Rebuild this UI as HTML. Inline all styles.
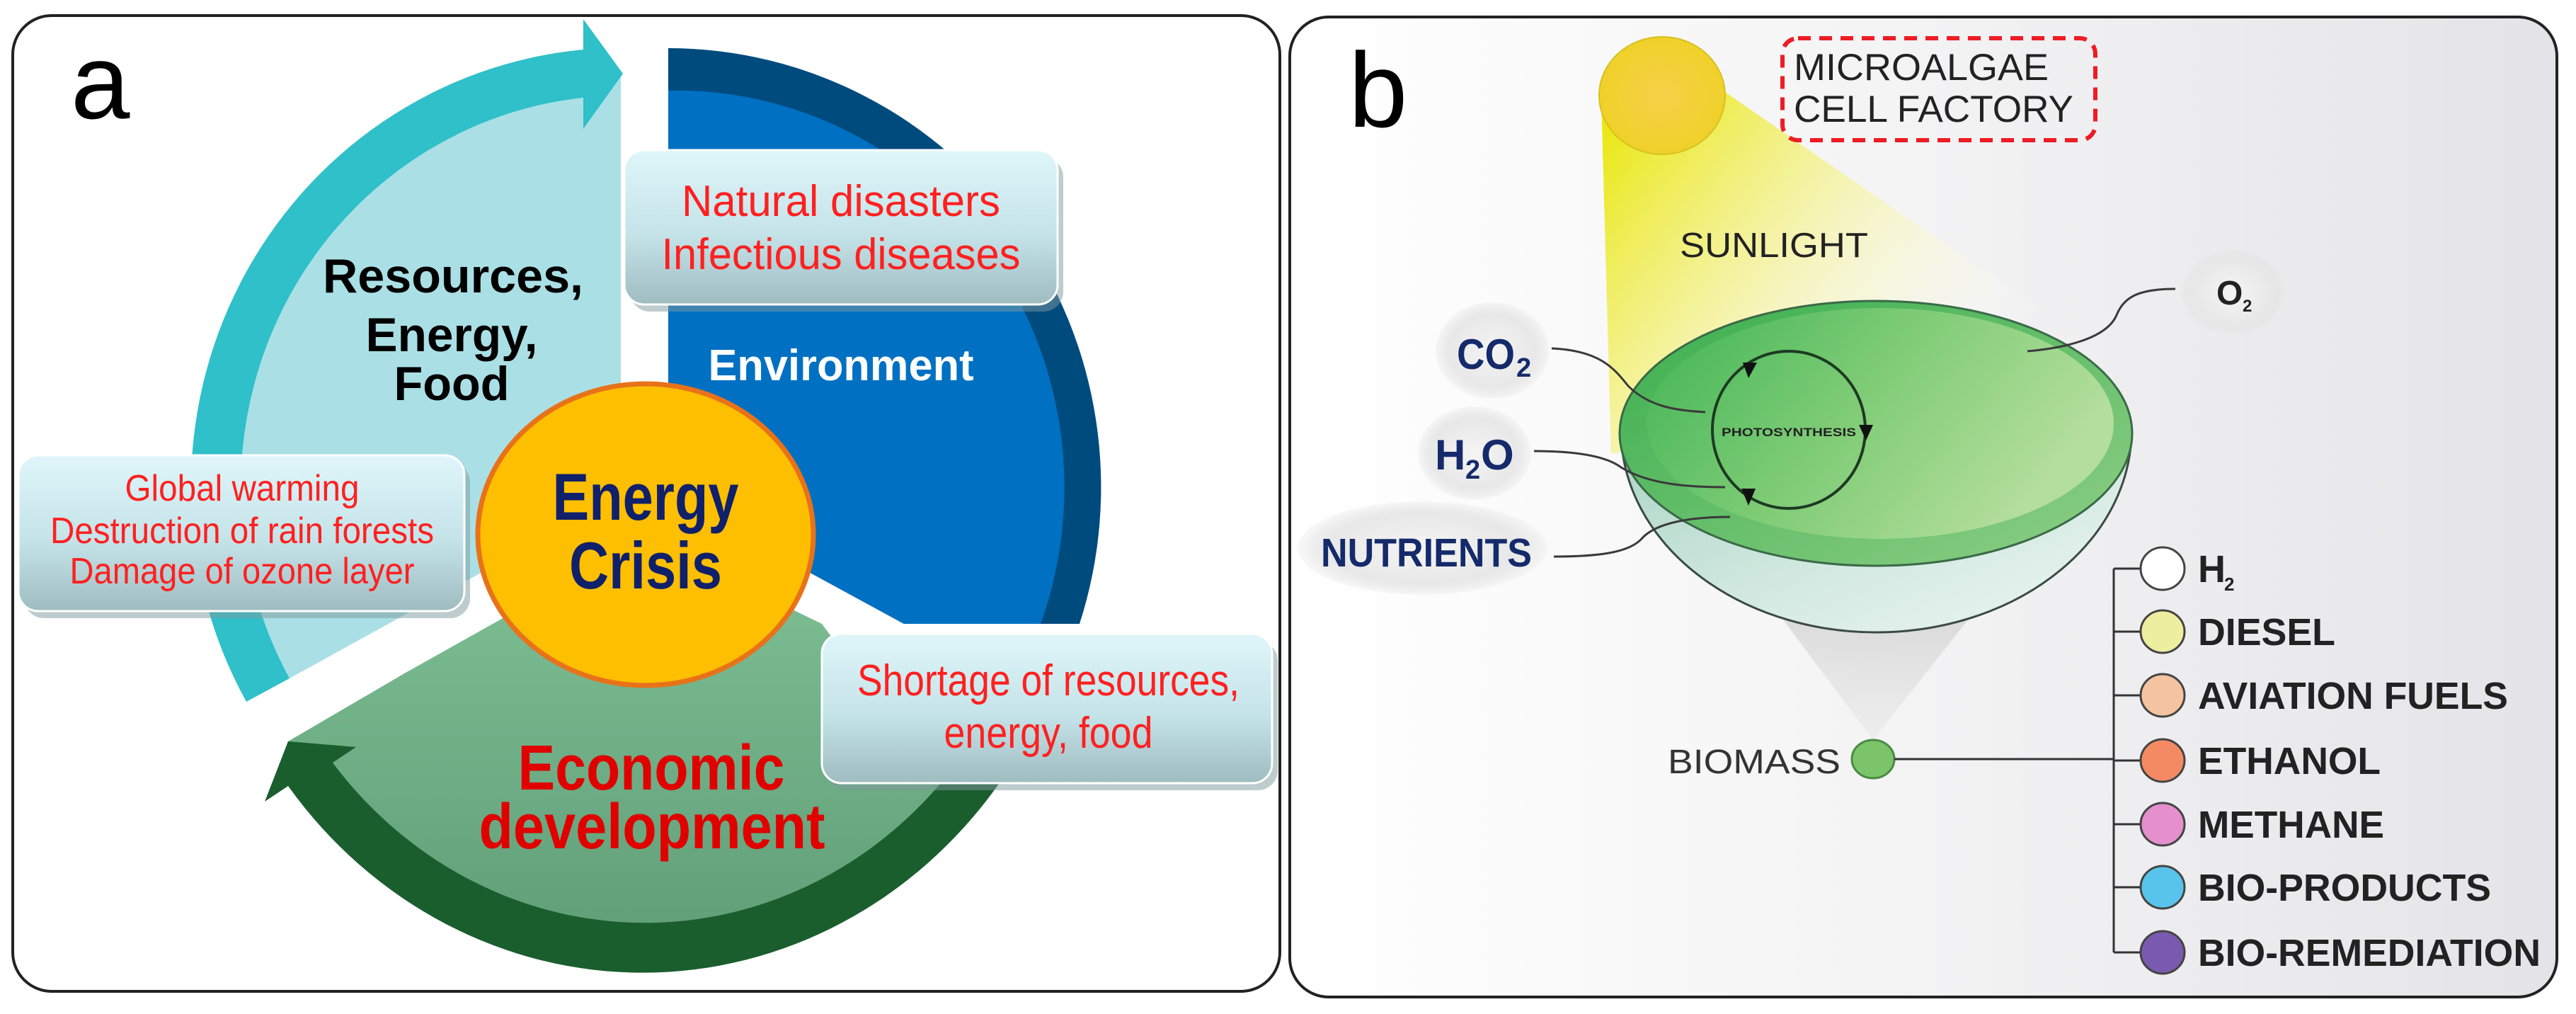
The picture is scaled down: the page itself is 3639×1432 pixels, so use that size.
<!DOCTYPE html>
<html><head><meta charset="utf-8"><style>
html,body{margin:0;padding:0;background:#fff;}
svg{display:block;}
text{font-family:"Liberation Sans",Arial,sans-serif;}
</style></head><body>
<svg width="3639" height="1432" viewBox="0 0 3639 1432" xmlns="http://www.w3.org/2000/svg">
<defs>
<linearGradient id="box" x1="0" y1="0" x2="0" y2="1">
<stop offset="0" stop-color="#dff6fa"/><stop offset="0.55" stop-color="#c4e3e8"/><stop offset="1" stop-color="#9fbcc0"/>
</linearGradient>
<linearGradient id="lg" x1="0" y1="0" x2="0" y2="1">
<stop offset="0" stop-color="#80c195"/><stop offset="1" stop-color="#62a07a"/>
</linearGradient>
<linearGradient id="bbg" x1="0" y1="0" x2="1" y2="0">
<stop offset="0" stop-color="#ffffff"/><stop offset="0.5" stop-color="#f3f3f4"/><stop offset="1" stop-color="#e4e4e8"/>
</linearGradient>
<linearGradient id="beam" x1="0" y1="0" x2="1" y2="0.6">
<stop offset="0" stop-color="#e8e600"/><stop offset="0.45" stop-color="#f4f290" stop-opacity="0.8"/><stop offset="1" stop-color="#ffffff" stop-opacity="0"/>
</linearGradient>
<linearGradient id="bowl" x1="0" y1="0" x2="1" y2="1">
<stop offset="0" stop-color="#a9d3c3"/><stop offset="0.6" stop-color="#d6ebe4"/><stop offset="1" stop-color="#eef5f2"/>
</linearGradient>
<linearGradient id="rim" x1="0" y1="0" x2="1" y2="1">
<stop offset="0" stop-color="#3aae4e"/><stop offset="1" stop-color="#8fcf86"/>
</linearGradient>
<linearGradient id="pool" x1="0" y1="0" x2="1" y2="0.4">
<stop offset="0" stop-color="#40b455"/><stop offset="0.5" stop-color="#7ccb74"/><stop offset="1" stop-color="#b4de9c"/>
</linearGradient>
<radialGradient id="bub" cx="0.5" cy="0.5" r="0.5">
<stop offset="0" stop-color="#f4f4f4"/><stop offset="0.75" stop-color="#e8e8e8"/><stop offset="1" stop-color="#e0e0e0" stop-opacity="0.2"/>
</radialGradient>
<linearGradient id="cone" x1="0" y1="0" x2="0" y2="1">
<stop offset="0" stop-color="#d0d0d0"/><stop offset="1" stop-color="#e6e6e6" stop-opacity="0.6"/>
</linearGradient>
<radialGradient id="sun" cx="0.5" cy="0.5" r="0.5">
<stop offset="0" stop-color="#f7d048"/><stop offset="1" stop-color="#efd12a"/>
</radialGradient>
</defs>

<!-- Panel a -->
<rect x="18" y="22" width="1790" height="1378" rx="55" fill="#fff" stroke="#222" stroke-width="4"/>
<text x="100" y="167" font-size="150">a</text>

<!-- cyan -->
<path d="M877,100 L877,700 L409,958 A540,553 0 0 1 824,138 Z" fill="#aae0e5"/>
<path d="M348,991 A610,620 0 0 1 824,70 L824,27 L880,104 L824,182 L824,138 A540,553 0 0 0 409,958 Z" fill="#2fc0c9"/>
<!-- blue -->
<path d="M944,68 A612,620 0 0 1 1525,881 L1277,881 L944,700 Z" fill="#004b7e"/>
<path d="M944,128 A548,560 0 0 1 1470,881 L1277,881 L944,700 Z" fill="#0070c2"/>
<!-- green -->
<path d="M1328,1107 A565,603 0 0 1 470,1077 L407,1047 L573,950 L912,760 L1161,881 Z" fill="url(#lg)"/>
<path d="M1411,1107 A630,670 0 0 1 407,1110 L374,1132 L407,1047 L503,1055 L470,1077 A565,603 0 0 0 1328,1107 Z" fill="#1a5e2e"/>

<text x="640" y="413" font-size="68" font-weight="bold" text-anchor="middle" textLength="368" lengthAdjust="spacingAndGlyphs">Resources,</text>
<text x="638" y="496" font-size="68" font-weight="bold" text-anchor="middle" textLength="243" lengthAdjust="spacingAndGlyphs">Energy,</text>
<text x="638" y="565" font-size="68" font-weight="bold" text-anchor="middle" textLength="163" lengthAdjust="spacingAndGlyphs">Food</text>
<text x="1188" y="537" font-size="62" font-weight="bold" fill="#fff" text-anchor="middle" textLength="375" lengthAdjust="spacingAndGlyphs">Environment</text>

<!-- boxes -->
<rect x="890" y="222" width="612" height="218" rx="28" fill="#7e9a9e" opacity="0.5"/>
<rect x="882" y="212" width="612" height="218" rx="28" fill="url(#box)" stroke="#fff" stroke-width="3"/>
<text x="1188" y="305" font-size="62" fill="#ff2020" text-anchor="middle" textLength="450" lengthAdjust="spacingAndGlyphs">Natural disasters</text>
<text x="1188" y="380" font-size="62" fill="#ff2020" text-anchor="middle" textLength="507" lengthAdjust="spacingAndGlyphs">Infectious diseases</text>

<rect x="34" y="653" width="630" height="220" rx="28" fill="#7e9a9e" opacity="0.5"/>
<rect x="26" y="643" width="630" height="220" rx="28" fill="url(#box)" stroke="#fff" stroke-width="3"/>
<text x="342" y="707" font-size="52" fill="#ff2020" text-anchor="middle" textLength="331" lengthAdjust="spacingAndGlyphs">Global warming</text>
<text x="342" y="767" font-size="52" fill="#ff2020" text-anchor="middle" textLength="542" lengthAdjust="spacingAndGlyphs">Destruction of rain forests</text>
<text x="342" y="824" font-size="52" fill="#ff2020" text-anchor="middle" textLength="487" lengthAdjust="spacingAndGlyphs">Damage of ozone layer</text>

<ellipse cx="912" cy="755" rx="237" ry="213" fill="#fdbf00" stroke="#e8721a" stroke-width="7"/>
<text x="912" y="734" font-size="94" font-weight="bold" fill="#10206a" text-anchor="middle" textLength="263" lengthAdjust="spacingAndGlyphs">Energy</text>
<text x="912" y="831" font-size="94" font-weight="bold" fill="#10206a" text-anchor="middle" textLength="216" lengthAdjust="spacingAndGlyphs">Crisis</text>

<rect x="1169" y="905" width="636" height="211" rx="28" fill="#7e9a9e" opacity="0.5"/>
<rect x="1161" y="895" width="636" height="211" rx="28" fill="url(#box)" stroke="#fff" stroke-width="3"/>
<text x="1481" y="982" font-size="62" fill="#ff2020" text-anchor="middle" textLength="540" lengthAdjust="spacingAndGlyphs">Shortage of resources,</text>
<text x="1481" y="1056" font-size="62" fill="#ff2020" text-anchor="middle" textLength="295" lengthAdjust="spacingAndGlyphs">energy, food</text>

<text x="920" y="1115" font-size="90" font-weight="bold" fill="#e00000" text-anchor="middle" textLength="377" lengthAdjust="spacingAndGlyphs">Economic</text>
<text x="921" y="1198" font-size="90" font-weight="bold" fill="#e00000" text-anchor="middle" textLength="489" lengthAdjust="spacingAndGlyphs">development</text>

<!-- Panel b -->
<rect x="1822" y="24" width="1790" height="1384" rx="55" fill="url(#bbg)" stroke="#222" stroke-width="4"/>
<text x="1905" y="179" font-size="150">b</text>

<polygon points="2262,140 2437,130 2900,450 2700,600 2276,640" fill="url(#beam)"/>
<ellipse cx="2348" cy="135" rx="89" ry="83" fill="url(#sun)" stroke="#d8c020" stroke-width="2"/>

<rect x="2518" y="54" width="442" height="144" rx="22" fill="none" stroke="#ee1c24" stroke-width="6" stroke-dasharray="18,12"/>
<text x="2534" y="113" font-size="53" fill="#222" textLength="360" lengthAdjust="spacingAndGlyphs">MICROALGAE</text>
<text x="2534" y="172" font-size="53" fill="#222" textLength="395" lengthAdjust="spacingAndGlyphs">CELL FACTORY</text>
<text x="2373" y="363" font-size="49" fill="#222" textLength="266" lengthAdjust="spacingAndGlyphs">SUNLIGHT</text>

<!-- cone -->
<polygon points="2500,850 2800,850 2646,1045" fill="url(#cone)" opacity="0.8"/>

<!-- bowl -->
<path d="M2290,615 A360,285 0 0 0 3011,600 Z" fill="url(#bowl)" stroke="#3c4a44" stroke-width="3"/>
<ellipse cx="2650" cy="612" rx="362" ry="187" fill="url(#rim)" stroke="#3a6a48" stroke-width="3"/>
<ellipse cx="2656" cy="598" rx="330" ry="163" fill="url(#pool)"/>

<!-- photosynthesis -->
<ellipse cx="2527" cy="607" rx="108" ry="111" fill="none" stroke="#1d3a22" stroke-width="4"/>
<polygon points="2462,512 2482,512 2470,534" fill="#111"/>
<polygon points="2626,600 2646,600 2636,622" fill="#111"/>
<polygon points="2460,690 2480,690 2470,714" fill="#111"/>
<text x="2527" y="616" font-size="17" font-weight="bold" fill="#222" text-anchor="middle" textLength="190" lengthAdjust="spacingAndGlyphs">PHOTOSYNTHESIS</text>

<!-- bubbles -->
<ellipse cx="2108" cy="495" rx="80" ry="68" fill="url(#bub)"/>
<ellipse cx="2083" cy="640" rx="80" ry="66" fill="url(#bub)"/>
<ellipse cx="2009" cy="774" rx="176" ry="66" fill="url(#bub)"/>
<ellipse cx="3154" cy="413" rx="72" ry="60" fill="url(#bub)"/>

<text x="2058" y="521" font-size="60" font-weight="bold" fill="#152a6a" textLength="82" lengthAdjust="spacingAndGlyphs">CO</text>
<text x="2142" y="532" font-size="38" font-weight="bold" fill="#152a6a">2</text>
<text x="2027" y="663" font-size="60" font-weight="bold" fill="#152a6a">H</text>
<text x="2070" y="676" font-size="38" font-weight="bold" fill="#152a6a">2</text>
<text x="2092" y="663" font-size="60" font-weight="bold" fill="#152a6a">O</text>
<text x="1866" y="800" font-size="57" font-weight="bold" fill="#152a6a" textLength="298" lengthAdjust="spacingAndGlyphs">NUTRIENTS</text>
<text x="3131" y="430" font-size="48" font-weight="bold" fill="#222">O</text>
<text x="3168" y="440" font-size="24" font-weight="bold" fill="#222">2</text>

<!-- curves -->
<g fill="none" stroke="#3a3a3a" stroke-width="3">
<path d="M2192,492 C2260,495 2280,520 2300,545 C2330,575 2370,580 2409,582"/>
<path d="M2167,637 C2230,637 2270,645 2290,660 C2330,685 2390,688 2437,688"/>
<path d="M2195,786 C2260,786 2300,780 2318,762 C2340,735 2400,730 2444,730"/>
<path d="M3073,408 C3020,408 3000,420 2990,445 C2975,480 2910,492 2864,496"/>
</g>

<!-- biomass & products -->
<text x="2356" y="1092" font-size="48" fill="#333" textLength="244" lengthAdjust="spacingAndGlyphs">BIOMASS</text>
<ellipse cx="2646" cy="1072" rx="30" ry="27" fill="#7cc46a" stroke="#4a8a44" stroke-width="3"/>
<g stroke="#333" stroke-width="3" fill="none">
<line x1="2676" y1="1072" x2="2986" y2="1072"/>
<line x1="2986" y1="803" x2="2986" y2="1345"/>
<line x1="2986" y1="803" x2="3024" y2="803"/>
<line x1="2986" y1="892" x2="3024" y2="892"/>
<line x1="2986" y1="982" x2="3024" y2="982"/>
<line x1="2986" y1="1074" x2="3024" y2="1074"/>
<line x1="2986" y1="1164" x2="3024" y2="1164"/>
<line x1="2986" y1="1253" x2="3024" y2="1253"/>
<line x1="2986" y1="1345" x2="3024" y2="1345"/>
</g>
<g stroke="#444" stroke-width="3">
<ellipse cx="3055" cy="803" rx="31" ry="30" fill="#ffffff"/>
<ellipse cx="3055" cy="892" rx="31" ry="30" fill="#eeeea0"/>
<ellipse cx="3055" cy="982" rx="31" ry="30" fill="#f4c4a0"/>
<ellipse cx="3055" cy="1074" rx="31" ry="30" fill="#f38a64"/>
<ellipse cx="3055" cy="1164" rx="31" ry="30" fill="#e490cc"/>
<ellipse cx="3055" cy="1253" rx="31" ry="30" fill="#58c4ec"/>
<ellipse cx="3055" cy="1345" rx="31" ry="30" fill="#7a5aae"/>
</g>
<g font-size="54" font-weight="bold" fill="#222">
<text x="3105" y="822">H</text>
<text x="3142" y="834" font-size="26">2</text>
<text x="3105" y="911" textLength="194" lengthAdjust="spacingAndGlyphs">DIESEL</text>
<text x="3105" y="1001" textLength="438" lengthAdjust="spacingAndGlyphs">AVIATION FUELS</text>
<text x="3105" y="1093" textLength="258" lengthAdjust="spacingAndGlyphs">ETHANOL</text>
<text x="3105" y="1183" textLength="263" lengthAdjust="spacingAndGlyphs">METHANE</text>
<text x="3105" y="1272" textLength="414" lengthAdjust="spacingAndGlyphs">BIO-PRODUCTS</text>
<text x="3105" y="1364" textLength="484" lengthAdjust="spacingAndGlyphs">BIO-REMEDIATION</text>
</g>
</svg>
</body></html>
